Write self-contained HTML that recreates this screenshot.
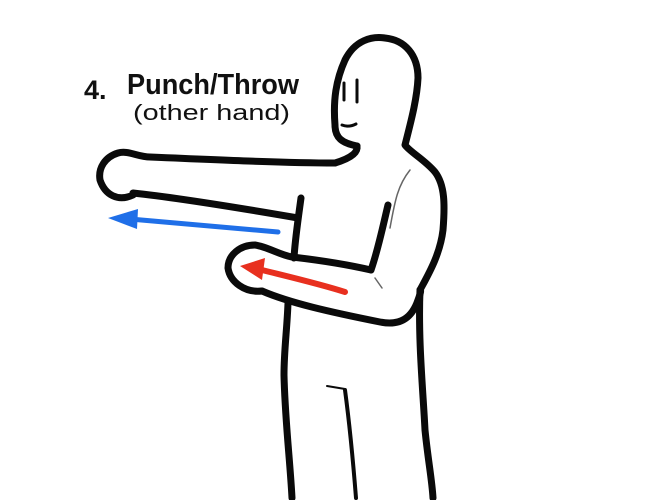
<!DOCTYPE html>
<html><head><meta charset="utf-8"><style>
html,body{margin:0;padding:0;background:#fff;width:650px;height:500px;overflow:hidden}
svg{display:block}
text{font-family:"Liberation Sans",sans-serif;fill:#111}
</style></head><body>
<svg width="650" height="500" viewBox="0 0 650 500">
<g fill="none" stroke="#0a0a0a" stroke-width="7" stroke-linecap="round" stroke-linejoin="round">
  <path d="M357,146 C342,143 335,138 335,125 C333,100 336,80 345,60 C355,40 372,36 385,38 C405,40 418,55 418,78 C417,100 410,125 405,145 C410,152 425,160 435,172 C445,185 445,205 443,230 C440,255 428,275 420,290"/>
  <path d="M357,146 C358,152 352,158 335,163"/>
  <path d="M335,163 C290,163 220,160 150,157 C138,157 128,150 118,153 C105,157 98,168 100,180 C105,195 118,202 133,195"/>
  <path d="M133,193 C180,198 240,208 298,218"/>
  <path d="M301,198 C298,220 295,240 294,258"/>
  <path d="M388,205 C382,230 378,250 371,270"/>
  <path d="M371,270 C345,264 318,260 292,257 C280,255 268,247 255,245 C240,245 228,255 228,268 C230,282 245,293 262,291"/>
  <path d="M262,291 C290,303 330,312 380,322 C400,326 412,318 418,300 C421,292 421,290 420,290"/>
  <path d="M288,303 C287,330 284,350 284,375 C285,420 290,460 292,498"/>
  <path d="M420,290 C418,340 423,390 425,430 C428,460 432,480 433,498"/>
  <path stroke-width="4" d="M345,390 C349,420 353,460 356,498"/>
  <path stroke-width="2" d="M327,386 L345,389"/>
  <path stroke-width="3" d="M344,83 L344,100"/>
  <path stroke-width="3" d="M357,80 L357,102"/>
  <path stroke-width="3" d="M342,125 C347,127 352,126 356,124"/>
  <path stroke="#666" stroke-width="1.5" d="M410,170 C398,185 395,200 390,228"/>
  <path stroke="#666" stroke-width="1.5" d="M375,278 L382,288"/>
</g>
<g>
  <path d="M278,232 C230,228 180,223 130,219" stroke="#1f6fe8" stroke-width="5" fill="none" stroke-linecap="round"/>
  <polygon points="108,218 138,209 137,229" fill="#1f6fe8"/>
</g>
<g>
  <path d="M345,292 C320,284 290,277 262,270" stroke="#e8301f" stroke-width="6" fill="none" stroke-linecap="round"/>
  <polygon points="240,266 265,258 262,280" fill="#e8301f"/>
</g>
<text x="84" y="99" font-size="27" font-weight="bold">4.</text>
<text x="127" y="94" font-size="29" font-weight="bold" textLength="172" lengthAdjust="spacingAndGlyphs">Punch/Throw</text>
<text x="133" y="120" font-size="22" textLength="157" lengthAdjust="spacingAndGlyphs">(other hand)</text>
</svg>
</body></html>
